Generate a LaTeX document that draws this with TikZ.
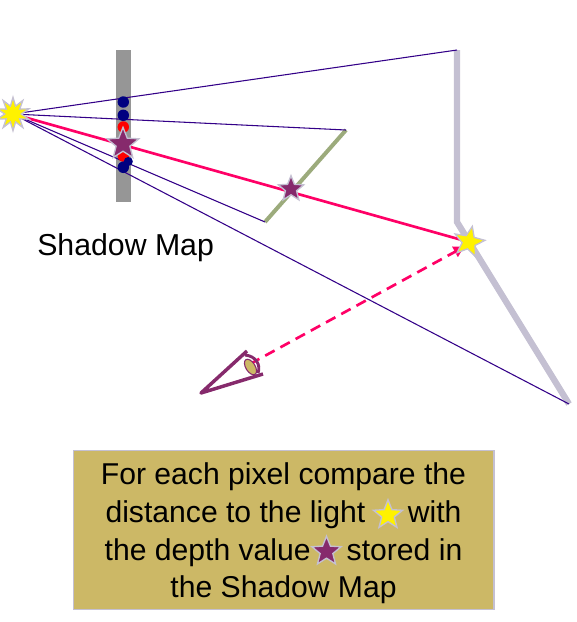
\documentclass[tikz,border=0pt]{standalone}
\usepackage{fontspec}
\setmainfont{Liberation Sans}
\usetikzlibrary{positioning,arrows.meta,calc,shapes.geometric,backgrounds}

\definecolor{raycol}{HTML}{330088}
\definecolor{hitcol}{HTML}{FF0066}
\definecolor{eyecol}{HTML}{862A6C}
\definecolor{wallcol}{HTML}{C4C0D2}
\definecolor{occcol}{HTML}{9CAB7C}
\definecolor{notecol}{HTML}{CCB866}
\definecolor{navycol}{HTML}{000080}

\tikzset{
  ray/.style={raycol, line width=0.8pt},
  texel/.style={circle, inner sep=0pt, minimum size=8.6pt},
  starmark/.style={star, star points=5, star point ratio=2.3, inner sep=0pt,
    minimum size=#1, draw=wallcol, line width=1pt},
  wallend/.style={inner sep=0pt, minimum size=0pt}
}

\begin{document}
\begin{tikzpicture}[x=0.75pt, y=-0.75pt, every node/.style={align=center}]
  \useasboundingbox (0,0) rectangle (577,622);

  \node[star, star points=10, star point ratio=2.0, inner sep=0pt, minimum size=25pt,
    fill=yellow, draw=wallcol, line width=1pt] (light) at (13,114) {};
  \node[starmark=24pt, fill=yellow, rotate=-12] (hit) at (469,242) {};
  \node[starmark=20pt, fill=eyecol] (occ) at (291,189) {};
  \node[starmark=25pt, fill=eyecol] (mapstar) at (123,144) {};

  \node[wallend] (walltop) at (457,50) {};
  \node[wallend] (wallknee) at (457,222) {};
  \node[wallend] (wallend) at (569,404) {};
  \node[wallend] (occtop) at (346,130) {};
  \node[wallend] (occend) at (265,222) {};
  \node[wallend] (eye) at (250,364) {};
  \node[wallend] (arrowend) at (464.3,246.7) {};
  \node[wallend] (apex) at (201,393) {};
  \node[wallend] (liptop) at (247,351) {};
  \node[wallend] (lipend) at (263,374) {};

  \begin{scope}[on background layer]
    \fill[gray!82] (116,50) rectangle (131,202);
    \draw[wallcol, line width=4.7pt] (walltop.center) -- (wallknee.center) -- (wallend.center);
    \draw[occcol, line width=3pt] (occtop.center) -- (occend.center);
    \draw[ray] (light.center) -- (walltop.center);
    \draw[ray] (light.center) -- (occtop.center);
    \draw[ray] (light.center) -- (occend.center);
    \draw[ray] (light.center) -- (wallend.center);
    \node[texel, fill=navycol] (texa) at (123.3,102) {};
    \node[texel, fill=navycol] (texb) at (123.3,115.3) {};
    \node[texel, fill=red] (texc) at (123.3,127) {};
    \node[texel, fill=red] (texd) at (123.3,156) {};
    \node[texel, fill=navycol, minimum size=6.8pt] (texe) at (128.3,161.5) {};
    \node[texel, fill=navycol] (texf) at (123.3,167.3) {};
    \draw[hitcol, line width=2pt] (light.center) -- (hit.center);
    \draw[hitcol, line width=2pt, dash pattern=on 8pt off 5pt,
      -{Triangle[length=8pt,width=8.5pt]}] (eye.center) -- (arrowend.center);
  \end{scope}

  \node[ellipse, minimum width=13pt, minimum height=7pt, inner sep=0pt, rotate=-58,
    fill=notecol, draw=eyecol, line width=0.8pt] (lens) at (250.5,367) {};
  \draw[eyecol, line width=2.6pt, line join=round] (liptop.center) -- (apex.center) -- (lipend.center);
  \draw[eyecol, line width=2.2pt] (245,355) .. controls (256,356) and (261,365) .. (258,373);

  \node[anchor=west, font=\fontsize{22.7}{27}\selectfont, inner sep=0pt] (maplabel) at (37,248) {Shadow Map};

  \node[draw=wallcol, fill=notecol, line width=1pt, minimum width=315.5pt, minimum height=119.5pt,
    inner sep=0pt] (note) at (283.5,530) {};
  \node[inner sep=0pt, font=\fontsize{22.6}{28.2}\selectfont] (notetext) at (283.5,533.5)
    {For each pixel compare the\\distance to the light\hspace{32pt}with\\the depth value\hspace{27pt}stored in\\the Shadow Map};
  \node[starmark=23pt, fill=yellow] (keylight) at (388,515) {};
  \node[starmark=23pt, fill=eyecol] (keydepth) at (326.5,551.5) {};
\end{tikzpicture}
\end{document}
